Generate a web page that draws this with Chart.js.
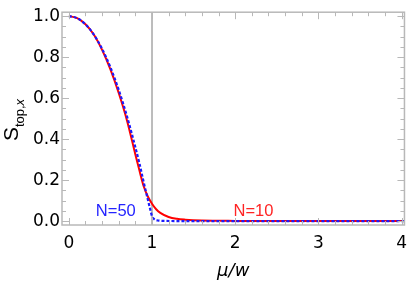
<!DOCTYPE html>
<html>
<head>
<meta charset="utf-8">
<script src="https://cdn.jsdelivr.net/npm/chart.js@4/dist/chart.umd.min.js"></script>
<style>
    html, body { margin: 0; padding: 0; background: #fff; }
    canvas { display: block; }
</style>
</head>
<body>
<canvas id="chart" width="415" height="284"></canvas>
<script>
// Values
const xN10 = [0, 0.1, 0.2, 0.3, 0.4, 0.5, 0.6, 0.7, 0.8, 0.85, 0.9, 0.95, 1.0, 1.05, 1.1, 1.2, 1.3, 1.4, 1.6, 2, 3, 4.03];
const yN10 = [1, 0.99, 0.96, 0.91, 0.835, 0.74, 0.625, 0.49, 0.325, 0.245, 0.17, 0.12, 0.085, 0.058, 0.04, 0.02, 0.011, 0.007, 0.003, 0.001, 0, 0];

const xN50 = [0, 0.1, 0.2, 0.3, 0.4, 0.5, 0.6, 0.7, 0.8, 0.85, 0.9, 0.95, 0.98, 1.0, 1.03, 1.07, 1.15, 1.5, 2, 3, 4.03];
const yN50 = [1, 0.99, 0.96, 0.91, 0.84, 0.75, 0.64, 0.51, 0.36, 0.28, 0.19, 0.105, 0.055, 0.025, 0.008, 0.003, 0.001, 0, 0, 0, 0];

const xTicks = [0, 1, 2, 3, 4];
const yTicks = [0, 0.2, 0.4, 0.6, 0.8, 1.0];
const xMinorStep = 0.2;
const yMinorStep = 0.05;

const markerX = 1;   // vertical reference line
const curveLabels = [
    { text: 'N=50', x: 0.565, y: 0.047, color: '#2424ff' },
    { text: 'N=10', x: 2.22, y: 0.047, color: '#ff2424' }
];

const X_MIN = -0.082, X_MAX = 4.035;
const Y_MIN = -0.019, Y_MAX = 1.019;

function toPoints(xs, ys) {
    return xs.map((x, i) => ({ x: x, y: ys[i] }));
}

// frame with inward ticks on all four sides, curve labels, y title
const framePlugin = {
    id: 'frame',
    afterDatasetsDraw(chart) {
        const { ctx, chartArea: a, scales: { x, y } } = chart;
        ctx.save();
        ctx.strokeStyle = '#b8b8b8';
        ctx.lineWidth = 1;

        // x ticks (bottom + top)
        for (let v = Math.ceil(X_MIN / xMinorStep) * xMinorStep; v <= X_MAX; v += xMinorStep) {
            const px = Math.round(x.getPixelForValue(v)) + 0.5;
            const major = xTicks.some(t => Math.abs(t - v) < 1e-6);
            const len = major ? 7 : 4;
            ctx.beginPath();
            ctx.moveTo(px, a.bottom); ctx.lineTo(px, a.bottom - len);
            ctx.moveTo(px, a.top); ctx.lineTo(px, a.top + len);
            ctx.stroke();
        }
        // y ticks (left + right)
        for (let v = Math.ceil(Y_MIN / yMinorStep) * yMinorStep; v <= Y_MAX; v += yMinorStep) {
            const py = Math.round(y.getPixelForValue(v)) + 0.5;
            const major = yTicks.some(t => Math.abs(t - v) < 1e-6);
            const len = major ? 7 : 4;
            ctx.beginPath();
            ctx.moveTo(a.left, py); ctx.lineTo(a.left + len, py);
            ctx.moveTo(a.right, py); ctx.lineTo(a.right - len, py);
            ctx.stroke();
        }

        ctx.lineWidth = 1.5;
        ctx.strokeRect(a.left, a.top, a.width, a.height);

        // curve labels
        ctx.font = '16.5px "Liberation Sans", Arial, sans-serif';
        ctx.textAlign = 'center';
        ctx.textBaseline = 'middle';
        curveLabels.forEach(l => {
            ctx.fillStyle = l.color;
            ctx.fillText(l.text, x.getPixelForValue(l.x), y.getPixelForValue(l.y));
        });
        ctx.restore();
    },
    afterDraw(chart) {
        // y axis title S_{top,x}, rotated
        const { ctx } = chart;
        ctx.save();
        ctx.translate(10.5, 120);
        ctx.rotate(-Math.PI / 2);
        ctx.fillStyle = '#000';
        ctx.textBaseline = 'alphabetic';
        const fBig = '21px "Liberation Sans", Arial, sans-serif';
        const fSub = '13px "Liberation Sans", Arial, sans-serif';
        const fSubIt = 'italic 13px "Liberation Sans", Arial, sans-serif';
        ctx.font = fBig; const wS = ctx.measureText('S').width;
        ctx.font = fSub; const wT = ctx.measureText('top,').width;
        ctx.font = fSubIt; const wX = ctx.measureText('x').width;
        let cx = -(wS + wT + wX) / 2;
        ctx.font = fBig; ctx.fillText('S', cx, 7.5); cx += wS;
        ctx.font = fSub; ctx.fillText('top,', cx, 13); cx += wT;
        ctx.font = fSubIt; ctx.fillText('x', cx, 13);
        ctx.restore();
    }
};

const tickFont = { family: '"DejaVu Sans", sans-serif', size: 17 };

new Chart(document.getElementById('chart'), {
    type: 'scatter',
    data: {
        datasets: [
            {
                label: 'N=50',
                data: toPoints(xN50, yN50),
                showLine: true,
                borderColor: '#1a1aff',
                borderWidth: 2.2,
                borderDash: [3, 2],
                pointRadius: 0,
                cubicInterpolationMode: 'monotone',
                order: 0
            },
            {
                label: 'N=10',
                data: toPoints(xN10, yN10),
                showLine: true,
                borderColor: '#ff0000',
                borderWidth: 2,
                pointRadius: 0,
                cubicInterpolationMode: 'monotone',
                order: 1
            },
            {
                label: 'marker',
                data: [{ x: markerX, y: Y_MIN }, { x: markerX, y: Y_MAX }],
                showLine: true,
                borderColor: '#909090',
                borderWidth: 1.2,
                pointRadius: 0,
                order: 2
            }
        ]
    },
    options: {
        responsive: false,
        animation: false,
        layout: { padding: { top: 8, right: 5, left: 0, bottom: 0 } },
        plugins: { legend: { display: false }, tooltip: { enabled: false } },
        scales: {
            x: {
                type: 'linear',
                min: X_MIN,
                max: X_MAX,
                grid: { display: false, drawTicks: false },
                border: { display: false },
                afterBuildTicks: (scale) => { scale.ticks = xTicks.map(v => ({ value: v })); },
                afterFit: (scale) => { scale.height = 59; },
                ticks: {
                    font: tickFont,
                    color: '#000',
                    padding: 8,
                    maxRotation: 0,
                    callback: (v) => String(v)
                },
                title: {
                    display: true,
                    text: 'μ/w',
                    color: '#000',
                    font: { family: '"DejaVu Sans", sans-serif', size: 18, style: 'italic' },
                    padding: { top: 0, bottom: 2 }
                }
            },
            y: {
                type: 'linear',
                min: Y_MIN,
                max: Y_MAX,
                grid: { display: false, drawTicks: false },
                border: { display: false },
                afterBuildTicks: (scale) => { scale.ticks = yTicks.map(v => ({ value: v })); },
                afterFit: (scale) => { scale.width = 62; },
                ticks: {
                    font: tickFont,
                    color: '#000',
                    padding: 2,
                    callback: (v) => v.toFixed(1)
                }
            }
        }
    },
    plugins: [framePlugin]
});
</script>
</body>
</html>
